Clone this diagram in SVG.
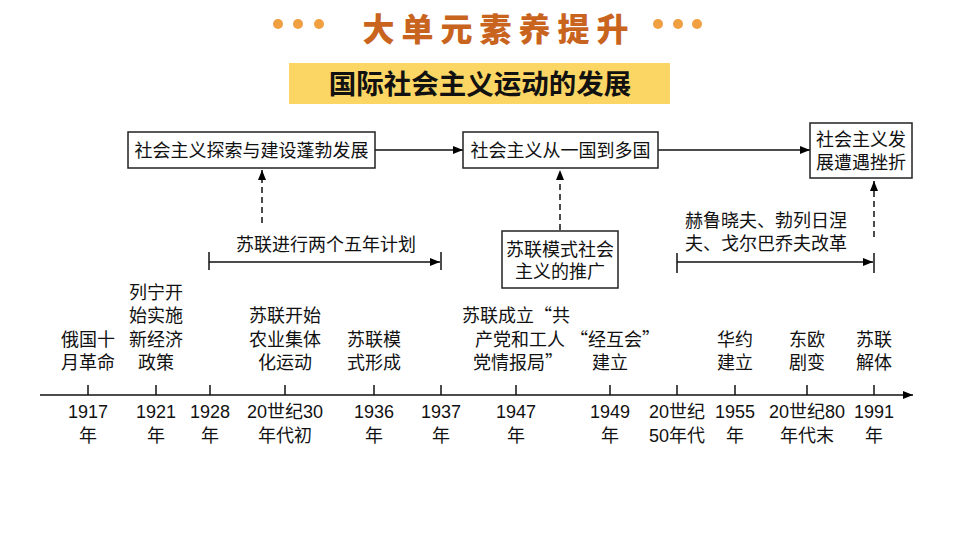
<svg xmlns="http://www.w3.org/2000/svg" width="960" height="540" viewBox="0 0 960 540">
<defs>
<marker id="ah" viewBox="0 0 10 8" refX="10" refY="4" markerWidth="10" markerHeight="8" markerUnits="userSpaceOnUse" orient="auto">
<path d="M0,0 L10,4 L0,8 Z" fill="#000"/>
</marker>
<marker id="ahs" viewBox="0 0 10 8" refX="10" refY="4" markerWidth="12" markerHeight="8" markerUnits="userSpaceOnUse" orient="auto">
<path d="M0,0 L10,4 L0,8 Z" fill="#000"/>
</marker>
</defs>
<style>
.t{font-family:"Liberation Sans","Noto Sans CJK SC",sans-serif;font-size:18px;fill:#111;text-anchor:middle}
.tl{font-family:"Liberation Sans","Noto Sans CJK SC",sans-serif;font-size:18px;fill:#111}
.q{font-family:"Noto Sans CJK SC",sans-serif}
.box{fill:#fff;stroke:#222;stroke-width:1.5}
.ln{stroke:#111;stroke-width:1.5;fill:none}
.dash{stroke:#111;stroke-width:1.5;fill:none;stroke-dasharray:6 4}
.dot{fill:#f0a040}
</style>
<rect width="960" height="540" fill="#fff"/>
<g id="title">
<circle class="dot" cx="278" cy="24" r="5"/>
<circle class="dot" cx="298" cy="24" r="5"/>
<circle class="dot" cx="319" cy="24" r="5"/>
<circle class="dot" cx="658" cy="24" r="5"/>
<circle class="dot" cx="678" cy="24" r="5"/>
<circle class="dot" cx="697" cy="24" r="5"/>
<text x="499" y="41" font-family="'Noto Sans CJK SC',sans-serif" font-size="32" font-weight="900" fill="#c8641e" text-anchor="middle" letter-spacing="7">大单元素养提升</text>
</g>
<g id="subtitle">
<rect x="289" y="63" width="381" height="41" fill="#fcd664"/>
<text x="480" y="94" font-family="'Noto Sans CJK SC',sans-serif" font-size="27.5" font-weight="bold" fill="#111" text-anchor="middle">国际社会主义运动的发展</text>
</g>
<g id="connectors">
<line class="ln" x1="375" y1="150" x2="463" y2="150" marker-end="url(#ah)"/>
<line class="ln" x1="658" y1="150" x2="810" y2="150" marker-end="url(#ah)"/>
<line class="dash" x1="262" y1="223" x2="262" y2="170" marker-end="url(#ahs)"/>
<line class="dash" x1="560" y1="230" x2="560" y2="170" marker-end="url(#ahs)"/>
<line class="dash" x1="874" y1="237" x2="874" y2="181" marker-end="url(#ahs)"/>
<line class="ln" x1="209" y1="252" x2="209" y2="270"/>
<line class="ln" x1="441" y1="252" x2="441" y2="270"/>
<line class="ln" x1="209" y1="262" x2="440" y2="262" marker-end="url(#ah)"/>
<line class="ln" x1="677" y1="253" x2="677" y2="273"/>
<line class="ln" x1="874" y1="253" x2="874" y2="273"/>
<line class="ln" x1="677" y1="262" x2="873" y2="262" marker-end="url(#ah)"/>
</g>
<g id="box1">
<rect class="box" x="128" y="132" width="247" height="36"/>
<text class="t" x="251.5" y="157">社会主义探索与建设蓬勃发展</text>
</g>
<g id="box2">
<rect class="box" x="463" y="132" width="195" height="36"/>
<text class="t" x="560.5" y="157">社会主义从一国到多国</text>
</g>
<g id="box3">
<rect class="box" x="810" y="123" width="102" height="55"/>
<text class="t" x="861" y="146">社会主义发</text>
<text class="t" x="861" y="169">展遭遇挫折</text>
</g>
<g id="box4">
<rect class="box" x="502" y="231" width="116" height="57"/>
<text class="t" x="560" y="256">苏联模式社会</text>
<text class="t" x="560" y="278">主义的推广</text>
</g>
<g id="span-labels">
<text class="t" x="326" y="251">苏联进行两个五年计划</text>
<text class="tl" x="685" y="227">赫鲁晓夫、勃列日涅</text>
<text class="tl" x="685" y="250">夫、戈尔巴乔夫改革</text>
</g>
<g id="axis">
<line class="ln" x1="40" y1="395" x2="913" y2="395" marker-end="url(#ah)"/>
<g class="ticks">
<line class="ln" x1="88" y1="385" x2="88" y2="395"/>
<line class="ln" x1="156" y1="385" x2="156" y2="395"/>
<line class="ln" x1="210" y1="385" x2="210" y2="395"/>
<line class="ln" x1="285" y1="385" x2="285" y2="395"/>
<line class="ln" x1="374" y1="385" x2="374" y2="395"/>
<line class="ln" x1="441" y1="385" x2="441" y2="395"/>
<line class="ln" x1="516" y1="385" x2="516" y2="395"/>
<line class="ln" x1="610" y1="385" x2="610" y2="395"/>
<line class="ln" x1="677" y1="385" x2="677" y2="395"/>
<line class="ln" x1="735" y1="385" x2="735" y2="395"/>
<line class="ln" x1="807" y1="385" x2="807" y2="395"/>
<line class="ln" x1="874" y1="385" x2="874" y2="395"/>
</g>
</g>
<g id="years">
<text class="t" x="88" y="418">1917</text><text class="t" x="88" y="442">年</text>
<text class="t" x="156" y="418">1921</text><text class="t" x="156" y="442">年</text>
<text class="t" x="210" y="418">1928</text><text class="t" x="210" y="442">年</text>
<text class="t" x="285" y="418">20世纪30</text><text class="t" x="285" y="442">年代初</text>
<text class="t" x="374" y="418">1936</text><text class="t" x="374" y="442">年</text>
<text class="t" x="441" y="418">1937</text><text class="t" x="441" y="442">年</text>
<text class="t" x="516" y="418">1947</text><text class="t" x="516" y="442">年</text>
<text class="t" x="610" y="418">1949</text><text class="t" x="610" y="442">年</text>
<text class="t" x="677" y="418">20世纪</text><text class="t" x="677" y="442">50年代</text>
<text class="t" x="735" y="418">1955</text><text class="t" x="735" y="442">年</text>
<text class="t" x="807" y="418">20世纪80</text><text class="t" x="807" y="442">年代末</text>
<text class="t" x="874" y="418">1991</text><text class="t" x="874" y="442">年</text>
</g>
<g id="events">
<text class="t" x="88" y="346">俄国十</text><text class="t" x="88" y="369">月革命</text>
<text class="t" x="156" y="299">列宁开</text><text class="t" x="156" y="322">始实施</text><text class="t" x="156" y="346">新经济</text><text class="t" x="156" y="369">政策</text>
<text class="t" x="285" y="322">苏联开始</text><text class="t" x="285" y="346">农业集体</text><text class="t" x="285" y="369">化运动</text>
<text class="t" x="374" y="346">苏联模</text><text class="t" x="374" y="369">式形成</text>
<text class="t" x="516" y="322">苏联成立<tspan class="q">“</tspan>共</text><text class="t" x="520" y="346">产党和工人</text><text class="t" x="518" y="369">党情报局<tspan class="q">”</tspan></text>
<text class="t" x="615" y="346"><tspan class="q">“</tspan>经互会<tspan class="q">”</tspan></text><text class="t" x="610" y="369">建立</text>
<text class="t" x="735" y="346">华约</text><text class="t" x="735" y="369">建立</text>
<text class="t" x="807" y="346">东欧</text><text class="t" x="807" y="369">剧变</text>
<text class="t" x="874" y="346">苏联</text><text class="t" x="874" y="369">解体</text>
</g>
</svg>
